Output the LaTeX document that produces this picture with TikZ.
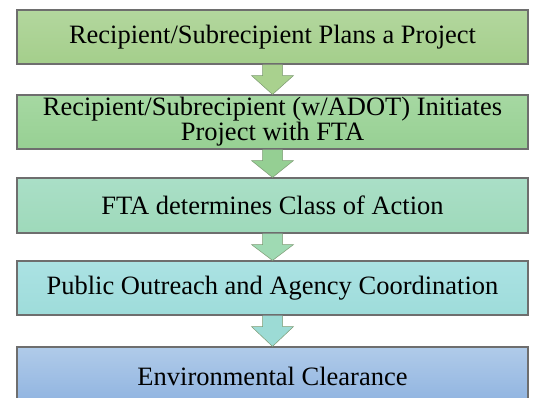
\documentclass[tikz,border=0pt]{standalone}
\usepackage{fontspec}
\setmainfont{Liberation Serif}
\usetikzlibrary{calc}
\definecolor{edge}{HTML}{6E6E6E}
\definecolor{aedge}{HTML}{7C9A72}
\definecolor{gA}{HTML}{B3D79E}\definecolor{gAb}{HTML}{A4CE8B}
\definecolor{gB}{HTML}{A6D8A2}\definecolor{gBb}{HTML}{97D093}
\definecolor{gC}{HTML}{AADFC7}\definecolor{gCb}{HTML}{9ED9BA}
\definecolor{gD}{HTML}{ABE2E3}\definecolor{gDb}{HTML}{9EDCDA}
\definecolor{gE}{HTML}{B0CBE9}\definecolor{gEb}{HTML}{8FB3E0}
\definecolor{aA}{HTML}{A9D18E}
\definecolor{aB}{HTML}{95CF93}
\definecolor{aC}{HTML}{9FDAB3}
\definecolor{aD}{HTML}{9CDBD5}
\tikzset{
  stagebox/.style={draw=edge, line width=1.1pt, minimum width=511pt, minimum height=54pt,
    inner sep=0pt, align=center, font=\fontsize{26.5}{25}\selectfont, text=black},
  blockarrow/.style={draw=aedge, line width=0.5pt}
}
\newcommand{\blockarr}[3]{%
  \fill[#3] ($(#1.south)+(-10,0)$) -- ($(#1.south)+(-10,11)$) -- ($(#1.south)+(-21,11)$)
    -- (#2.north) -- ($(#1.south)+(21,11)$) -- ($(#1.south)+(10,11)$) -- ($(#1.south)+(10,0)$) -- cycle;
  \draw[blockarrow] ($(#1.south)+(-10,0.6)$) -- ($(#1.south)+(-10,11)$) -- ($(#1.south)+(-21,11)$)
    -- (#2.north) -- ($(#1.south)+(21,11)$) -- ($(#1.south)+(10,11)$) -- ($(#1.south)+(10,0.6)$);
}
\begin{document}
\begin{tikzpicture}[x=1pt,y=-1pt]
\useasboundingbox (0,0) rectangle (534,397);
\clip (0,0) rectangle (534,397);
\node[stagebox, top color=gA, bottom color=gAb] (b1) at (272.5,37) {Recipient/Subrecipient Plans a Project};
\node[stagebox, top color=gB, bottom color=gBb] (b2) at (272.5,122) {Recipient/Subrecipient (w/ADOT) Initiates\\Project with FTA};
\node[stagebox, minimum height=55pt, top color=gC, bottom color=gCb] (b3) at (272.5,205.5) {FTA determines Class of Action};
\node[stagebox, top color=gD, bottom color=gDb] (b4) at (272.5,288) {Public Outreach and Agency Coordination};
\node[stagebox, minimum height=58pt, top color=gE, bottom color=gEb] (b5) at (272.5,376) {Environmental Clearance};
\blockarr{b1}{b2}{aA}
\blockarr{b2}{b3}{aB}
\blockarr{b3}{b4}{aC}
\blockarr{b4}{b5}{aD}
\end{tikzpicture}
\end{document}
